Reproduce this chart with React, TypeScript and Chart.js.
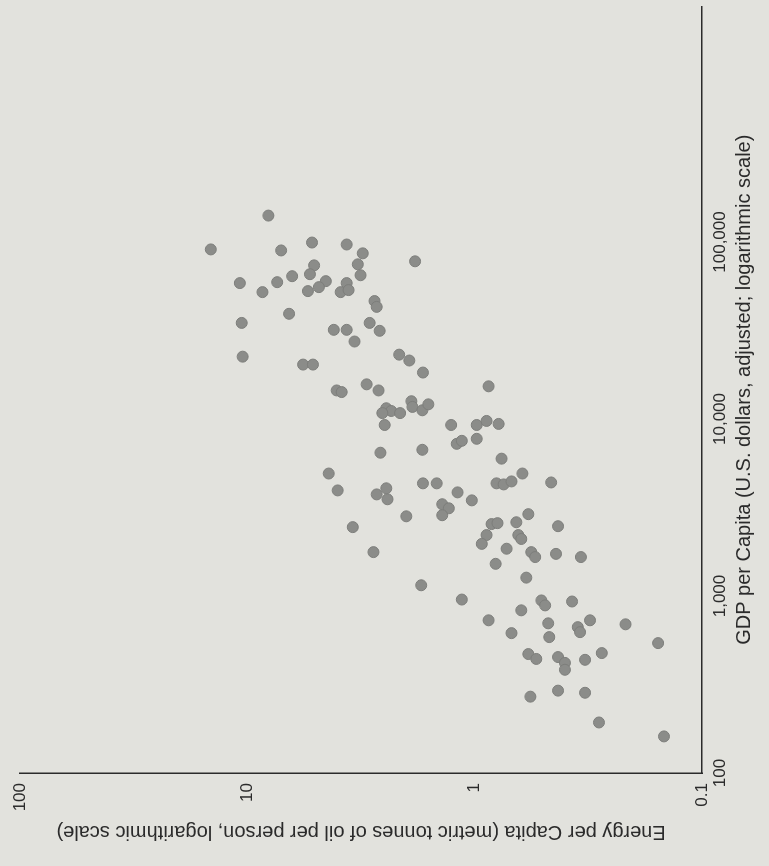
import React, { useEffect, useRef } from 'react';
import { Chart, registerables } from 'chart.js';

Chart.register(...registerables);

// GDP per capita (US$, adjusted) for each country point
const gdpPerCapita: number[] = [
  141000, 90800, 89600, 99300, 96800, 86300, 73800, 74800, 64900, 58600,
  59300, 64100, 65800, 60100, 55600, 52800, 58600, 52100, 53500, 52100,
  77800, 39300, 34900, 31900, 31900, 46400, 43000, 34900, 31500, 27400,
  22500, 20300, 20300, 23100, 21400, 18300, 14500, 14200, 15700, 14500,
  11500, 11100, 10800, 10800, 12600, 11700, 11200, 12100, 15300, 9250,
  9250, 9250, 9750, 9380, 7240, 7530, 7730, 6450, 6700, 5970,
  4920, 4920, 4330, 4330, 4330, 4270, 4440, 4380, 3950, 3850,
  3470, 4060, 3750, 3520, 3300, 3130, 2860, 2820, 2900, 2610,
  2450, 2550, 2580, 2480, 2210, 2210, 1970, 2100, 1850, 1770,
  1660, 1730, 1660, 1520, 1270, 1150, 955, 944, 885, 931,
  830, 701, 729, 729, 667, 625, 692, 617, 586, 542,
  470, 441, 452, 419, 383, 436, 476, 270, 292, 284,
  193, 161, 1770,
];

// Energy per capita (metric tonnes of oil per person) for the same points
const energyPerCapita: number[] = [
  8.09, 14.5, 7.11, 5.2, 3.66, 3.11, 5.09, 3.27, 3.18, 10.8,
  7.4, 6.36, 5.31, 4.52, 4.85, 5.42, 3.66, 3.89, 3.59, 8.59,
  1.83, 6.56, 10.6, 4.17, 3.66, 2.76, 2.7, 2.9, 2.62, 3.38,
  10.5, 5.69, 5.15, 2.15, 1.94, 1.69, 4.05, 3.85, 2.99, 2.65,
  2.45, 2.33, 2.55, 2.13, 1.9, 1.88, 1.7, 1.6, 0.869, 2.49,
  1.27, 0.98, 0.887, 0.785, 1.2, 1.14, 0.98, 2.6, 1.7, 0.762,
  4.39, 0.617, 1.69, 1.47, 0.802, 0.746, 0.689, 0.461, 4.01, 1.19,
  1.03, 2.45, 2.7, 2.42, 1.39, 1.3, 1.39, 2.0, 0.581, 0.656,
  3.44, 0.843, 0.794, 0.43, 0.643, 0.887, 0.931, 0.624, 0.724, 0.564,
  0.542, 0.439, 0.341, 0.809, 0.593, 1.72, 1.14, 0.509, 0.49, 0.373,
  0.624, 0.475, 0.869, 0.311, 0.352, 0.344, 0.217, 0.689, 0.47, 0.156,
  0.581, 0.536, 0.43, 0.401, 0.401, 0.327, 0.276, 0.569, 0.43, 0.327,
  0.284, 0.147, 2.79,
];

const gdpTicks: number[] = [100, 1000, 10000, 100000];
const energyTicks: number[] = [0.1, 1, 10, 100];

const gdpTitle = 'GDP per Capita (U.S. dollars, adjusted; logarithmic scale)';
const energyTitle = 'Energy per Capita (metric tonnes of oil per person, logarithmic scale)';

const INK = '#2b2b2b';
const FONT = "'Liberation Sans', Arial, Helvetica, sans-serif";

export default function App() {
  const ref = useRef<HTMLCanvasElement>(null);

  useEffect(() => {
    if (!ref.current) return;
    const chart = new Chart(ref.current, {
      type: 'scatter',
      data: {
        datasets: [
          {
            data: gdpPerCapita.map((g, i) => ({ x: g, y: energyPerCapita[i] })),
            backgroundColor: '#8b8c89',
            borderColor: '#7d7e7b',
            borderWidth: 1,
            pointRadius: 5.5,
            pointHoverRadius: 5.5,
          },
        ],
      },
      options: {
        responsive: false,
        animation: false,
        layout: { padding: { top: 13, right: 0, bottom: 0, left: 0 } },
        plugins: {
          legend: { display: false },
          tooltip: { enabled: false },
        },
        scales: {
          x: {
            type: 'logarithmic',
            min: 100,
            max: 2140000,
            grid: { display: false, drawTicks: false },
            border: { display: true, color: INK, width: 1.5 },
            afterBuildTicks: (s: any) => {
              s.ticks = gdpTicks.map((v) => ({ value: v }));
            },
            afterFit: (s: any) => {
              s.height = 67;
            },
            ticks: {
              autoSkip: false,
              maxRotation: 0,
              minRotation: 0,
              padding: 8,
              color: INK,
              font: { family: FONT, size: 17 },
              callback: (v: any) => Number(v).toLocaleString('en-US'),
            },
            title: {
              display: true,
              text: gdpTitle,
              color: INK,
              font: { family: FONT, size: 20 },
              padding: { top: 0, bottom: 13 },
            },
          },
          y: {
            type: 'logarithmic',
            min: 0.1,
            max: 100,
            grid: { display: false, drawTicks: false },
            border: { display: true, color: INK, width: 1.5 },
            afterBuildTicks: (s: any) => {
              s.ticks = energyTicks.map((v) => ({ value: v }));
            },
            afterFit: (s: any) => {
              s.width = 93;
            },
            ticks: {
              autoSkip: false,
              padding: 10,
              color: INK,
              font: { family: FONT, size: 17 },
              callback: (v: any) => String(v),
            },
            title: {
              display: true,
              text: energyTitle,
              color: INK,
              font: { family: FONT, size: 20 },
              padding: { top: 22, bottom: 0 },
            },
          },
        },
      },
    });
    return () => chart.destroy();
  }, []);

  return (
    <div
      style={{
        position: 'fixed',
        left: 0,
        top: 0,
        width: 769,
        height: 866,
        overflow: 'hidden',
        background: '#e2e2dd',
      }}
    >
      <div
        style={{
          position: 'absolute',
          left: 0,
          top: 0,
          width: 866,
          height: 769,
          transformOrigin: '0 0',
          transform: 'translateY(866px) rotate(-90deg)',
        }}
      >
        <canvas ref={ref} width={866} height={769} style={{ display: 'block' }} />
      </div>
    </div>
  );
}
